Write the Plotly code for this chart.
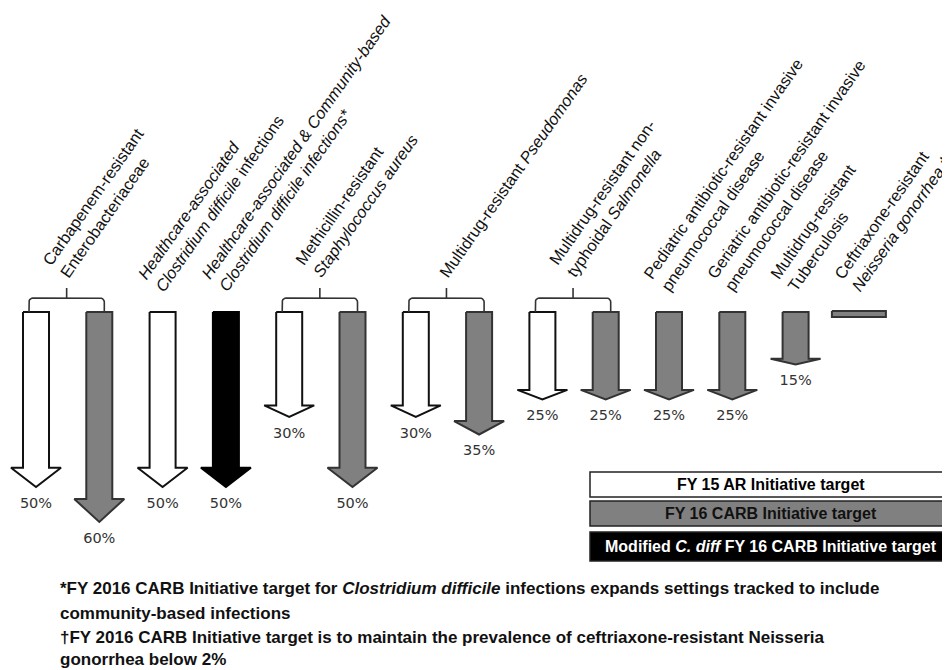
import math
import numpy as np
import plotly.graph_objects as go

# ---------------- data ----------------
group_labels = [
    "Carbapenem-resistant<br>Enterobacteriaceae",
    "<i>Healthcare-associated</i><br><i>Clostridium difficile</i> infections",
    "<i>Healthcare-associated &amp; Community-based</i><br><i>Clostridium difficile infections*</i>",
    "Methicillin-resistant<br><i>Staphylococcus aureus</i>",
    "Multidrug-resistant <i>Pseudomonas</i>",
    "Multidrug-resistant non-<br>typhoidal <i>Salmonella</i>",
    "Pediatric antibiotic-resistant invasive<br>pneumococcal disease",
    "Geriatric antibiotic-resistant invasive<br>pneumococcal disease",
    "Multidrug-resistant<br>Tuberculosis",
    "Ceftriaxone-resistant<br><i>Neisseria gonorrhea</i> †",
]
arrow_group = [0, 0, 1, 2, 3, 3, 4, 4, 5, 5, 6, 7, 8, 9]
arrow_target = ["FY15", "FY16", "FY15", "CDIFF", "FY15", "FY16", "FY15", "FY16",
                "FY15", "FY16", "FY16", "FY16", "FY16", "FY16"]
reduction_pct = [50, 60, 50, 50, 30, 50, 30, 35, 25, 25, 25, 25, 15, None]  # None = maintain (<2%)

legend_keys = ["FY15", "FY16", "CDIFF"]
legend_labels = ["FY 15 AR Initiative target",
                 "FY 16 CARB Initiative target",
                 "Modified <i>C. diff</i> FY 16 CARB Initiative target"]

footnotes = [
    "*FY 2016 CARB Initiative target for <i>Clostridium difficile</i> infections expands settings tracked to include",
    "community-based infections",
    "†FY 2016 CARB Initiative target is to maintain the prevalence of ceftriaxone-resistant Neisseria",
    "gonorrhea below 2%",
]

# ---------------- styles / geometry ----------------
W, H = 950, 670
OFF = 8             # page body margin compensation
PXX = 63.3          # px per arrow slot
PXY = 3.5           # px per percent
X0PX = 36 - OFF     # fig px of slot 0
TOPPX = 312 - OFF   # fig px of arrow tops (0 %)
fill = {"FY15": "#ffffff", "FY16": "#808080", "CDIFF": "#000000"}
edge = {"FY15": "#111111", "FY16": "#333333", "CDIFF": "#000000"}
txtcol = {"FY15": "#000000", "FY16": "#111111", "CDIFF": "#ffffff"}


def px(p):
    return (p - OFF) / W


def py(p):
    return 1 - (p - OFF) / H


sw = 13 / PXX       # shaft half width
hw = 25 / PXX       # head half width
head_frac = 0.11

xr = [-X0PX / PXX, (W - X0PX) / PXX]
yr = [-(H - TOPPX) / PXY, TOPPX / PXY]

fig = go.Figure()

# arrows
for i, (v, t) in enumerate(zip(reduction_pct, arrow_target)):
    if v is None:
        bw = 27 / PXX
        xs = [i - bw, i + bw, i + bw, i - bw, i - bw]
        ys = [0.3, 0.3, -1.4, -1.4, 0.3]
    else:
        h = head_frac * v
        xs = [i - sw, i + sw, i + sw, i + hw, i, i - hw, i - sw, i - sw]
        ys = [0, 0, -v + h, -v + h, -v, -v + h, -v + h, 0]
    fig.add_trace(go.Scatter(x=xs, y=ys, mode="lines", fill="toself",
                             fillcolor=fill[t], line=dict(color=edge[t], width=2),
                             hoverinfo="skip", showlegend=False))

# percent labels
lx = [i for i, v in enumerate(reduction_pct) if v is not None]
ly = [-v - 17 / PXY for v in reduction_pct if v is not None]
lt = [f"{v}%" for v in reduction_pct if v is not None]
fig.add_trace(go.Scatter(x=lx, y=ly, mode="text", text=lt,
                         textfont=dict(family="DejaVu Sans", size=14.5, color="#333333"),
                         hoverinfo="skip", showlegend=False))

# brackets
yb = 14 / PXY
yt = 24 / PXY
r = 4
ang = np.linspace(0, np.pi / 2, 6)
for g in range(len(group_labels)):
    idx = [i for i, a in enumerate(arrow_group) if a == g]
    if len(idx) < 2:
        continue
    xl = idx[0] - 7 / PXX
    xrr = idx[-1] + 5 / PXX
    xm = (xl + xrr) / 2
    cxl, cy = xl + r / PXX, yb - r / PXY
    left = [(cxl - r / PXX * math.cos(a), cy + r / PXY * math.sin(a)) for a in ang]
    cxr = xrr - r / PXX
    right = [(cxr + r / PXX * math.sin(a), cy + r / PXY * math.cos(a)) for a in ang]
    pts = [(xl, 0)] + left + right + [(xrr, 0)]
    fig.add_trace(go.Scatter(x=[p[0] for p in pts], y=[p[1] for p in pts], mode="lines",
                             line=dict(color="#333333", width=1.6), hoverinfo="skip",
                             showlegend=False))
    fig.add_trace(go.Scatter(x=[xm, xm], y=[yb, yt], mode="lines",
                             line=dict(color="#333333", width=1.6), hoverinfo="skip",
                             showlegend=False))

# group labels (rotated)
theta = 55
fs = 16.4
annotations = []
for g, lab in enumerate(group_labels):
    idx = [i for i, a in enumerate(arrow_group) if a == g]
    xc = sum(idx) / len(idx)
    nlines = lab.count("<br>") + 1
    Hbox = (nlines - 1) * 1.3 * fs + 1.15 * fs + 2
    bracketed = len(idx) > 1
    yshift = (312 - 283) if bracketed else (312 - 297)
    annotations.append(dict(
        x=xc, y=0, xref="x", yref="y", text=lab, showarrow=False,
        textangle=-theta, xanchor="left", yanchor="bottom", align="left",
        xshift=3 - Hbox * math.sin(math.radians(theta)), yshift=yshift,
        font=dict(family="Liberation Sans", size=fs, color="#111111")))

# legend boxes
shapes = []
boxes = [(472, 497), (501, 526), (532, 561)]
for k, lab, (y0, y1) in zip(legend_keys, legend_labels, boxes):
    shapes.append(dict(type="rect", xref="paper", yref="paper",
                       x0=px(590), x1=px(965), y0=py(y1), y1=py(y0),
                       fillcolor=fill[k], line=dict(color="#222222", width=1.5)))
    annotations.append(dict(x=px(771), y=py((y0 + y1) / 2), xref="paper", yref="paper",
                            text=f"<b>{lab}</b>", showarrow=False, xanchor="center",
                            yanchor="middle",
                            font=dict(family="Liberation Sans", size=16, color=txtcol[k])))

# footnotes
for line, yc in zip(footnotes, [588, 613, 637, 659]):
    annotations.append(dict(x=px(58), y=py(yc), xref="paper", yref="paper",
                            text=f"<b>{line}</b>", showarrow=False, xanchor="left",
                            yanchor="middle",
                            font=dict(family="Liberation Sans", size=17, color="#111111")))

fig.update_layout(
    width=W, height=H, margin=dict(l=0, r=0, t=0, b=0),
    paper_bgcolor="white", plot_bgcolor="white",
    xaxis=dict(range=xr, visible=False, fixedrange=True),
    yaxis=dict(range=yr, visible=False, fixedrange=True),
    shapes=shapes, annotations=annotations, showlegend=False,
)
fig.write_html("out.html")
